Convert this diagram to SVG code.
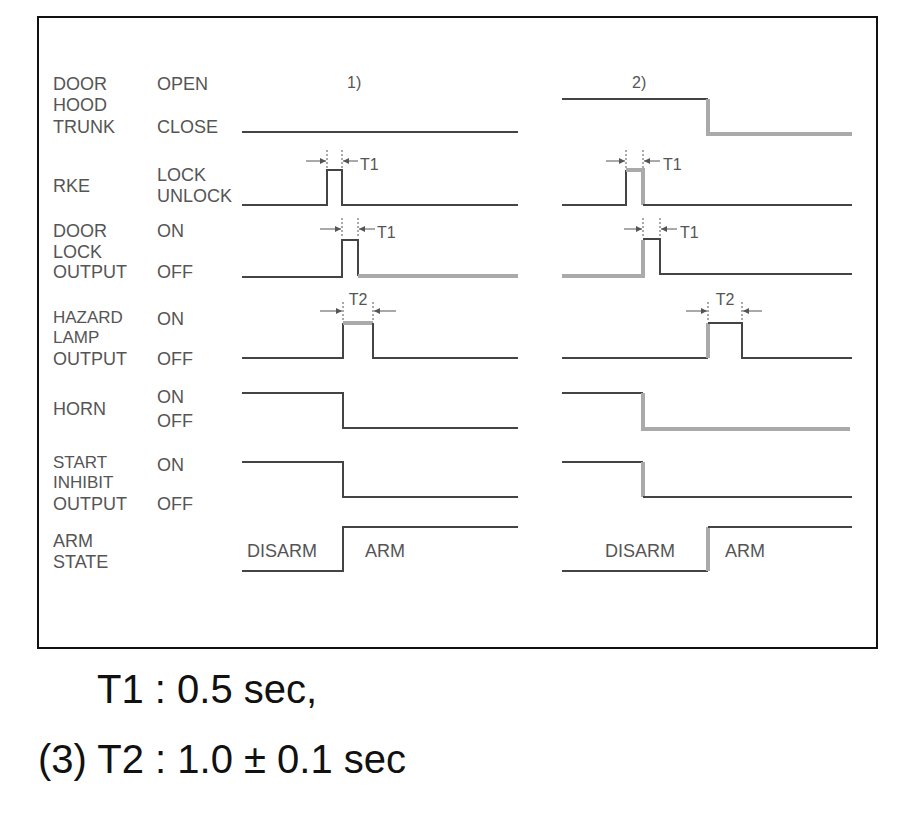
<svg xmlns="http://www.w3.org/2000/svg" width="900" height="816" viewBox="0 0 900 816">
<style>
.lbl{font-family:"Liberation Sans",Arial,sans-serif;font-size:18px;fill:#555}
.lt{font-size:17px}
.sm{font-family:"Liberation Sans",Arial,sans-serif;font-size:16px;fill:#555}
.note{font-family:"Liberation Sans",Arial,sans-serif;font-size:40px;fill:#111}
.w{fill:none;stroke:#444;stroke-width:2}
.g{fill:none;stroke:#aaa;stroke-width:4}
.tick{stroke:#555;stroke-width:1;stroke-dasharray:2 2}
.arr{stroke:#555;stroke-width:1;marker-end:url(#ah)}
</style>
<defs>
<marker id="ah" markerWidth="6" markerHeight="6" refX="6" refY="3" orient="auto" markerUnits="userSpaceOnUse">
<path d="M0,0 L6,3 L0,6 Z" fill="#555"/>
</marker>
</defs>
<rect x="38" y="17" width="839" height="631" fill="#fff" stroke="#111" stroke-width="2"/>
<g id="labels">
<g id="row-door"><text class="lbl" x="53" y="90">DOOR</text><text class="lbl" x="53" y="111">HOOD</text><text class="lbl" x="53" y="133">TRUNK</text><text class="lbl" x="157" y="90">OPEN</text><text class="lbl" x="157" y="133">CLOSE</text></g>
<g id="row-rke"><text class="lbl" x="53" y="192">RKE</text><text class="lbl" x="157" y="181">LOCK</text><text class="lbl" x="157" y="202">UNLOCK</text></g>
<g id="row-doorlock"><text class="lbl" x="53" y="237">DOOR</text><text class="lbl" x="53" y="258">LOCK</text><text class="lbl" x="53" y="278">OUTPUT</text><text class="lbl" x="157" y="237">ON</text><text class="lbl" x="157" y="278">OFF</text></g>
<g id="row-hazard"><text class="lbl lt" x="53" y="323">HAZARD</text><text class="lbl lt" x="53" y="343">LAMP</text><text class="lbl" x="53" y="365">OUTPUT</text><text class="lbl" x="157" y="325">ON</text><text class="lbl" x="157" y="365">OFF</text></g>
<g id="row-horn"><text class="lbl" x="53" y="415">HORN</text><text class="lbl" x="157" y="403">ON</text><text class="lbl" x="157" y="427">OFF</text></g>
<g id="row-start"><text class="lbl lt" x="53" y="468">START</text><text class="lbl lt" x="53" y="488">INHIBIT</text><text class="lbl" x="53" y="510">OUTPUT</text><text class="lbl" x="157" y="471">ON</text><text class="lbl" x="157" y="510">OFF</text></g>
<g id="row-arm"><text class="lbl" x="53" y="547">ARM</text><text class="lbl" x="53" y="568">STATE</text></g>
<g id="case-labels"><text class="sm" x="347" y="88" font-size="14">1)</text><text class="sm" x="632" y="88" font-size="14">2)</text></g>
<g id="state-labels"><text class="lbl" x="247" y="557">DISARM</text><text class="lbl" x="365" y="557">ARM</text><text class="lbl" x="605" y="557">DISARM</text><text class="lbl" x="725" y="557">ARM</text></g>
</g>
<g id="waveforms">
<path class="w" d="M242,132 H518"/>
<path class="w" d="M562,99 H708"/>
<path class="g" d="M708,99 V134 H852"/>
<path class="w" d="M242,205 H327 V170 H342 V205 H518"/>
<path class="w" d="M562,205 H626 V170"/>
<path class="g" d="M626,170 H643 V205"/>
<path class="w" d="M643,205 H852"/>
<path class="w" d="M242,277 H342 V240 H358 V276"/>
<path class="g" d="M358,276 H518"/>
<path class="g" d="M562,276 H643 V240"/>
<path class="w" d="M643,239 H660 V274 H852"/>
<path class="w" d="M242,358 H343 V323"/>
<path class="g" d="M343,323 H373"/>
<path class="w" d="M373,323 V358 H518"/>
<path class="w" d="M562,358 H708"/>
<path class="g" d="M708,358 V323"/>
<path class="w" d="M708,323 H742 V358 H852"/>
<path class="w" d="M242,393 H343 V428 H518"/>
<path class="w" d="M562,393 H643"/>
<path class="g" d="M643,393 V429 H850"/>
<path class="w" d="M242,462 H343 V497 H518"/>
<path class="w" d="M562,462 H643"/>
<path class="g" d="M643,462 V497"/>
<path class="w" d="M643,497 H852"/>
<path class="w" d="M242,571 H343 V527 H518"/>
<path class="w" d="M562,571 H708"/>
<path class="g" d="M708,571 V527"/>
<path class="w" d="M708,527 H852"/>
</g>
<g id="markers">
<line class="arr" x1="306" y1="161" x2="326" y2="161"/><line class="tick" x1="327" y1="150" x2="327" y2="168"/>
<line class="tick" x1="342" y1="150" x2="342" y2="168"/><line class="arr" x1="358" y1="161" x2="343" y2="161"/>
<text class="sm" x="360" y="170">T1</text>
<line class="arr" x1="606" y1="161" x2="625" y2="161"/><line class="tick" x1="626" y1="150" x2="626" y2="168"/>
<line class="tick" x1="643" y1="150" x2="643" y2="168"/><line class="arr" x1="660" y1="161" x2="644" y2="161"/>
<text class="sm" x="663" y="170">T1</text>
<line class="arr" x1="320" y1="229" x2="341" y2="229"/><line class="tick" x1="342" y1="218" x2="342" y2="238"/>
<line class="tick" x1="358" y1="218" x2="358" y2="238"/><line class="arr" x1="375" y1="229" x2="359" y2="229"/>
<text class="sm" x="377" y="238">T1</text>
<line class="arr" x1="624" y1="229" x2="642" y2="229"/><line class="tick" x1="643" y1="218" x2="643" y2="238"/>
<line class="tick" x1="660" y1="218" x2="660" y2="238"/><line class="arr" x1="677" y1="229" x2="661" y2="229"/>
<text class="sm" x="680" y="238">T1</text>
<line class="arr" x1="320" y1="311" x2="342" y2="311"/><line class="tick" x1="343" y1="302" x2="343" y2="322"/>
<line class="tick" x1="373" y1="302" x2="373" y2="322"/><line class="arr" x1="396" y1="311" x2="374" y2="311"/>
<text class="sm" x="358" y="305" text-anchor="middle">T2</text>
<line class="arr" x1="686" y1="311" x2="707" y2="311"/><line class="tick" x1="708" y1="302" x2="708" y2="322"/>
<line class="tick" x1="742" y1="302" x2="742" y2="322"/><line class="arr" x1="762" y1="311" x2="743" y2="311"/>
<text class="sm" x="725" y="305" text-anchor="middle">T2</text>
</g>
<g id="notes">
<text class="note" x="97" y="703">T1 : 0.5 sec,</text>
<text class="note" x="38" y="773">(3) T2 : 1.0 ± 0.1 sec</text>
</g>
</svg>
